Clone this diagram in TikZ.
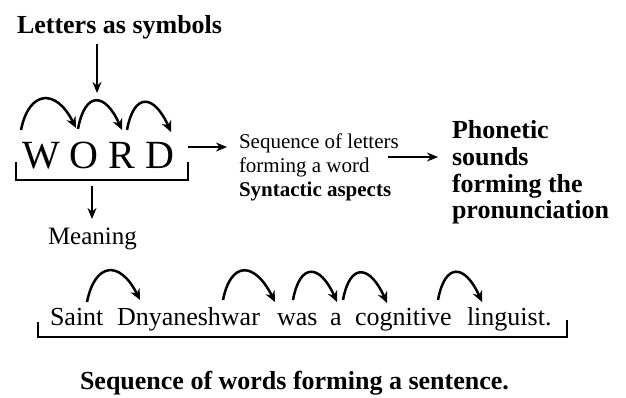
\documentclass[tikz,border=0pt]{standalone}
\usepackage{fontspec}
\setmainfont{Liberation Serif}
\usetikzlibrary{arrows.meta}
\begin{document}
\begin{tikzpicture}[x=1pt,y=-1pt,
  lbl/.style={anchor=base west, inner sep=0pt, outer sep=0pt},
  big/.style={font=\fontsize{26}{26}\selectfont\bfseries},
  mid/.style={font=\fontsize{21}{21}\selectfont},
  midb/.style={font=\fontsize{21}{21}\selectfont\bfseries},
  sent/.style={font=\fontsize{26}{26}\selectfont},
  arr/.style={line width=2.2pt, -{Stealth[length=11pt,width=9pt]}},
  hop/.style={line width=2.5pt, -{Stealth[length=11pt,width=10pt]}},
  brk/.style={line width=1.8pt}]
\useasboundingbox (0,0) rectangle (626,397);

% top part
\node[lbl, big] (letters) at (17,33) {Letters as symbols};
\node[lbl, font=\fontsize{40}{40}\selectfont] (word) at (22,168) {W O R D};
\node[lbl, mid] (seq1) at (239,148) {Sequence of letters};
\node[lbl, mid] (seq2) at (239,172) {forming a word};
\node[lbl, midb] (seq3) at (239,196) {Syntactic aspects};
\node[lbl, big] (ph1) at (452,138) {Phonetic};
\node[lbl, big] (ph2) at (452,165) {sounds};
\node[lbl, big] (ph3) at (452,192) {forming the};
\node[lbl, big] (ph4) at (452,218) {pronunciation};
\node[lbl, font=\fontsize{25}{25}\selectfont] (meaning) at (48,244) {Meaning};

\coordinate (la) at (97,44);
\coordinate (lb) at (97,93);
\draw[arr] (la) -- (lb);

\coordinate (wa) at (188,147);
\coordinate (wb) at (227,147);
\draw[arr] (wa) -- (wb);

\coordinate (sa) at (388,157);
\coordinate (sb) at (438,157);
\draw[arr] (sa) -- (sb);

\coordinate (ma) at (92,186);
\coordinate (mb) at (92,219);
\draw[arr] (ma) -- (mb);

\coordinate (bw1) at (16,162);
\coordinate (bw2) at (16,180);
\coordinate (bw3) at (188,180);
\coordinate (bw4) at (188,162);
\draw[brk] (bw1) -- (bw2) -- (bw3) -- (bw4);

% letter hops
\coordinate (h1a) at (21,130);  \coordinate (h1b) at (76,128);
\coordinate (h2a) at (78,129);  \coordinate (h2b) at (122,130);
\coordinate (h3a) at (127,130); \coordinate (h3b) at (171,132);
\draw[hop] (h1a) .. controls +(8,-40) and +(-20,-40) .. (h1b);
\draw[hop] (h2a) .. controls +(7,-38) and +(-17,-38) .. (h2b);
\draw[hop] (h3a) .. controls +(7,-38) and +(-17,-38) .. (h3b);

% sentence
\node[lbl, sent] (w1) at (50,325) {Saint};
\node[lbl, sent] (w2) at (117,325) {Dnyaneshwar};
\node[lbl, sent] (w3) at (277,325) {was};
\node[lbl, sent] (w4) at (330,325) {a};
\node[lbl, sent] (w5) at (355,325) {cognitive};
\node[lbl, sent] (w6) at (467,325) {linguist.};

\coordinate (s1a) at (87,302);  \coordinate (s1b) at (140,300);
\coordinate (s2a) at (223,300); \coordinate (s2b) at (275,302);
\coordinate (s3a) at (293,300); \coordinate (s3b) at (337,302);
\coordinate (s4a) at (343,300); \coordinate (s4b) at (387,303);
\coordinate (s5a) at (438,300); \coordinate (s5b) at (482,302);
\draw[hop] (s1a) .. controls +(8,-40) and +(-20,-40) .. (s1b);
\draw[hop] (s2a) .. controls +(8,-40) and +(-20,-40) .. (s2b);
\draw[hop] (s3a) .. controls +(7,-38) and +(-17,-38) .. (s3b);
\draw[hop] (s4a) .. controls +(7,-38) and +(-17,-38) .. (s4b);
\draw[hop] (s5a) .. controls +(7,-38) and +(-17,-38) .. (s5b);

\coordinate (bs1) at (38,322);
\coordinate (bs2) at (38,337);
\coordinate (bs3) at (567,337);
\coordinate (bs4) at (567,320);
\draw[brk] (bs1) -- (bs2) -- (bs3) -- (bs4);

\node[lbl, big] (caption) at (80,389) {Sequence of words forming a sentence.};
\end{tikzpicture}
\end{document}
